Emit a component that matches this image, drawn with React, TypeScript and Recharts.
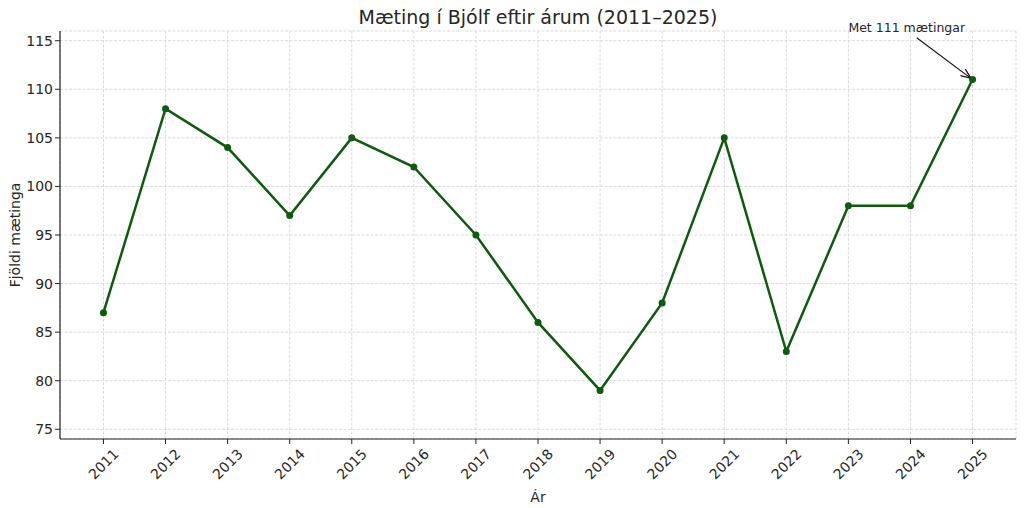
import { LineChart, Line, XAxis, YAxis, CartesianGrid, ReferenceLine, ReferenceDot } from 'recharts';

const years = [2011, 2012, 2013, 2014, 2015, 2016, 2017, 2018, 2019, 2020, 2021, 2022, 2023, 2024, 2025];
const attendance = [87, 108, 104, 97, 105, 102, 95, 86, 79, 88, 105, 83, 98, 98, 111];
const yTicks = [75, 80, 85, 90, 95, 100, 105, 110, 115];
const noteText = 'Met 111 mætingar';

const data = years.map((ar, i) => ({ ar, maeting: attendance[i] }));

const FONT = '"DejaVu Sans", sans-serif';
const GREEN = '#0e5a0e';

const XTick = (props: any) => {
  const { x, y, payload } = props;
  const cy = y + 18;
  return (
    <text
      x={x}
      y={cy}
      textAnchor="middle"
      dominantBaseline="central"
      transform={`rotate(-45, ${x}, ${cy})`}
      fontSize={14}
      fontFamily={FONT}
      fill="#262626"
    >
      {payload.value}
    </text>
  );
};

const Arrow = (props: any) => {
  const { x1, y1, x2, y2 } = props;
  if (x1 == null) return null;
  const dx = x2 - x1;
  const dy = y2 - y1;
  const len = Math.sqrt(dx * dx + dy * dy);
  const ux = dx / len;
  const uy = dy / len;
  const tx = x2 - ux * 2;
  const ty = y2 - uy * 2;
  const hx = tx - ux * 10;
  const hy = ty - uy * 10;
  return (
    <g>
      <line x1={x1} y1={y1} x2={tx} y2={ty} stroke="#111" strokeWidth={1.2} />
      <path
        d={`M${hx - uy * 4},${hy + ux * 4} L${tx},${ty} L${hx + uy * 4},${hy - ux * 4}`}
        fill="none"
        stroke="#111"
        strokeWidth={1.2}
      />
    </g>
  );
};

const NoteLabel = (props: any) => {
  const { cx, cy } = props;
  return (
    <text x={cx} y={cy} fontSize={12.5} fontFamily={FONT} fill="#262626">
      {noteText}
    </text>
  );
};

export default function App() {
  return (
    <div style={{ position: 'absolute', left: 0, top: 0, width: 1024, height: 508, background: '#fff', fontFamily: FONT }}>
      <LineChart width={1024} height={508} data={data} margin={{ top: 31, right: 8, left: 0, bottom: 0 }}>
        <text x={538} y={24} textAnchor="middle" fontSize={19} fontFamily={FONT} fill="#262626">
          Mæting í Bjólf eftir árum (2011–2025)
        </text>
        <CartesianGrid stroke="#dadada" strokeDasharray="3 1.5" />
        <XAxis
          dataKey="ar"
          type="number"
          domain={[2010.3, 2025.7]}
          ticks={years}
          interval={0}
          tick={<XTick />}
          tickLine={{ stroke: '#222' }}
          tickSize={5}
          axisLine={{ stroke: '#222', strokeWidth: 1.2 }}
          height={69}
          label={{ value: 'Ár', position: 'insideBottom', offset: 6, fontSize: 14, fill: '#262626', fontFamily: FONT }}
        />
        <YAxis
          type="number"
          domain={[74, 116]}
          ticks={yTicks}
          allowDataOverflow
          width={60}
          tick={{ fontSize: 14, fill: '#262626', fontFamily: FONT }}
          tickLine={{ stroke: '#222' }}
          tickSize={5}
          axisLine={{ stroke: '#222', strokeWidth: 1.2 }}
          label={{ value: 'Fjöldi mætinga', angle: -90, position: 'insideLeft', offset: 15, fontSize: 14, fill: '#262626', fontFamily: FONT, style: { textAnchor: 'middle' } }}
        />
        <Line
          type="linear"
          dataKey="maeting"
          stroke={GREEN}
          strokeWidth={2.5}
          dot={{ r: 3.5, fill: GREEN, stroke: GREEN, strokeWidth: 0 }}
          activeDot={false}
          isAnimationActive={false}
        />
        <ReferenceLine
          segment={[{ x: 2024.1, y: 115.3 }, { x: 2025, y: 111 }]}
          shape={<Arrow />}
          ifOverflow="visible"
        />
        <ReferenceDot x={2023} y={115.9} r={0} shape={<NoteLabel />} ifOverflow="visible" />
      </LineChart>
    </div>
  );
}
